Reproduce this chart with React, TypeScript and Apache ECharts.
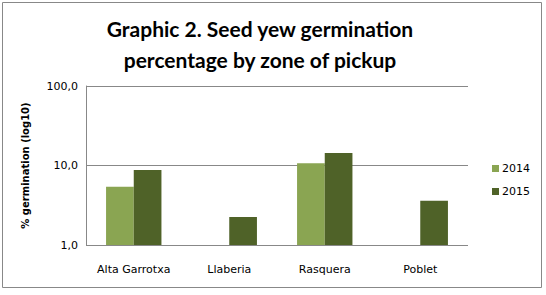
import React, { useEffect, useRef } from "react";
import * as echarts from "echarts";

const categories = ["Alta Garrotxa", "Llaberia", "Rasquera", "Poblet"];
const series2014 = [5.4, null, 10.7, null];
const series2015 = [8.8, 2.25, 14.4, 3.6];
const titleLines = ["Graphic 2. Seed yew germination", "percentage by zone of pickup"];
const yAxisName = "% germination (log10)";

export default function App() {
  const ref = useRef<HTMLDivElement>(null);
  useEffect(() => {
    const chart = echarts.init(ref.current!, null, { renderer: "svg" });
    chart.setOption({
      animation: false,
      backgroundColor: "#ffffff",
      title: {
        text: titleLines.join("\n"),
        left: 255,
        textAlign: "center",
        top: 8,
        padding: 5,
        textStyle: {
          fontFamily: "Lato",
          fontWeight: "bold",
          fontSize: 21,
          lineHeight: 31,
          color: "#000",
        },
      },
      graphic: [
        {
          type: "rect",
          shape: { x: 2.5, y: 2.5, width: 539, height: 285 },
          style: { fill: "none", stroke: "#888888", lineWidth: 1 },
        },
      ],
      legend: {
        orient: "vertical",
        left: 487,
        top: 158,
        itemWidth: 7,
        itemHeight: 7,
        itemGap: 12,
        icon: "rect",
        textStyle: { fontFamily: "DejaVu Sans", fontSize: 11, color: "#000", padding: [0, 0, 0, -2] },
        data: ["2014", "2015"],
      },
      grid: { left: 86, right: 78, top: 86, bottom: 50 },
      xAxis: {
        type: "category",
        data: categories,
        axisLine: { show: false },
        axisTick: { show: false },
        axisLabel: { fontFamily: "DejaVu Sans", fontSize: 11, color: "#000", margin: 19 },
      },
      yAxis: {
        type: "log",
        logBase: 10,
        min: 1,
        max: 100,
        name: yAxisName,
        nameLocation: "middle",
        nameGap: 56,
        nameRotate: 90,
        nameTextStyle: { fontFamily: "DejaVu Sans", fontWeight: "bold", fontSize: 10, color: "#000" },
        axisLine: { show: true, lineStyle: { color: "#888888" } },
        axisTick: { show: false },
        splitLine: { show: true, lineStyle: { color: "#888888" } },
        axisLabel: {
          fontFamily: "DejaVu Sans",
          fontSize: 11,
          color: "#000",
          margin: 8,
          formatter: (v: number) => v.toFixed(1).replace(".", ","),
        },
      },
      series: [
        {
          name: "2014",
          type: "bar",
          data: series2014,
          barGap: "0%",
          barCategoryGap: "42%",
          itemStyle: { color: "#8AA552" },
        },
        {
          name: "2015",
          type: "bar",
          data: series2015,
          itemStyle: { color: "#4F6228" },
        },
      ],
    });
    return () => chart.dispose();
  }, []);
  return (
    <div
      ref={ref}
      style={{ position: "fixed", left: 0, top: 0, width: 546, height: 295 }}
    />
  );
}
